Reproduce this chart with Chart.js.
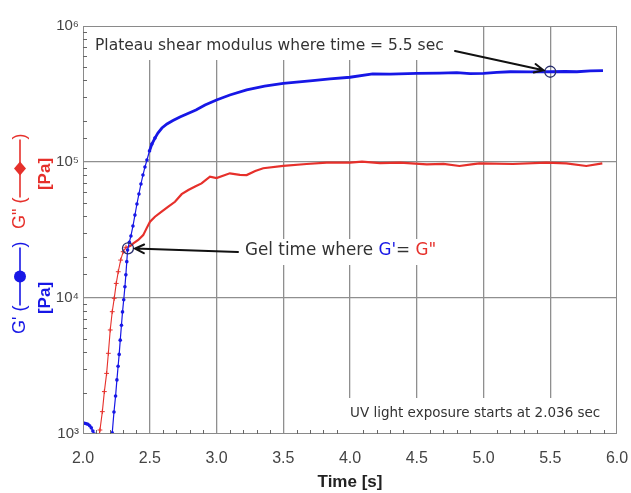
<!DOCTYPE html>
<html>
<head>
<meta charset="utf-8">
<script src="https://cdn.jsdelivr.net/npm/chart.js@4.4.0/dist/chart.umd.min.js"></script>
<style>
  html, body { margin: 0; padding: 0; background: #fff; }
</style>
</head>
<body>
<canvas id="modulusChart" width="631" height="493"></canvas>
<script>
// storage modulus G' (blue) and loss modulus G" (red) against time
var timeBlue = [2.000, 2.012, 2.025, 2.037, 2.050, 2.062, 2.074, 2.086, 2.099, 2.112,
    2.205, 2.219, 2.232, 2.244, 2.254, 2.263, 2.271, 2.279, 2.288, 2.296, 2.305,
    2.314, 2.321, 2.328, 2.334, 2.347, 2.359, 2.374, 2.389, 2.404, 2.419, 2.434,
    2.449, 2.464, 2.479, 2.498, 2.516, 2.539, 2.561, 2.591, 2.629, 2.674, 2.726,
    2.786, 2.846, 2.914, 3.000, 3.100, 3.226, 3.360, 3.500, 3.720, 3.850, 4.000,
    4.170, 4.300, 4.500, 4.670, 4.800, 4.900, 5.000, 5.100, 5.200, 5.350, 5.500,
    5.610, 5.700, 5.800, 5.895];
var gPrime = [1200, 1200, 1190, 1180, 1150, 1110, 1050, 1000, 985, 960,
    700, 1020, 1450, 1900, 2500, 3150, 3850, 4900, 6300, 7900, 9700,
    12100, 14800, 18500, 22500, 25700, 28600, 33800, 40700, 49100, 58200, 68900,
    80200, 91800, 103500, 120500, 135500, 150000, 163300, 177800, 190300, 201700, 214100,
    227300, 241200, 262400, 285800, 311000, 338500, 362000, 379000, 396000, 408000, 420000,
    444000, 442000, 449000, 451000, 454000, 447000, 449000, 456000, 461000, 460000, 461000,
    463000, 461000, 467000, 469000];

var timeRed = [2.050, 2.105, 2.127, 2.145, 2.160, 2.177, 2.190, 2.204, 2.219, 2.234,
    2.249, 2.264, 2.282, 2.301, 2.322, 2.340, 2.358, 2.377, 2.414, 2.451, 2.476,
    2.502, 2.539, 2.589, 2.639, 2.689, 2.739, 2.789, 2.840, 2.888, 2.951, 3.000,
    3.100, 3.175, 3.226, 3.290, 3.350, 3.500, 3.675, 3.825, 4.000, 4.090, 4.225,
    4.375, 4.575, 4.700, 4.820, 4.910, 4.970, 5.220, 5.470, 5.620, 5.770, 5.890];
var gDoublePrime = [600, 800, 1070, 1460, 2050, 2790, 3920, 5820, 7930, 9950,
    12800, 15600, 19000, 21900, 23600, 23800, 24300, 25200, 26700, 29000, 32500,
    36400, 39600, 43100, 46900, 51000, 58000, 62200, 66000, 69600, 78000, 76200,
    82600, 80400, 80200, 85900, 90000, 93500, 96700, 98900, 98900, 100500, 98000,
    98900, 96200, 97000, 93500, 96000, 97700, 96700, 98900, 97700, 93500, 97700];

// marked points: crossover (gel time) and plateau at 5.5 s
var gelPoint = { x: 2.337, y: 23200 };
var plateauPoint = { x: 5.5, y: 461000 };

var yTickLabels = ['10³', '10⁴', '10⁵', '10⁶'];
var xTitle = 'Time [s]';
var plateauText = 'Plateau shear modulus where time = 5.5 sec';
var uvText = 'UV light exposure starts at 2.036 sec';

var BLUE = '#1717e6';
var RED = '#e6302b';
var TEXT = '#333333';
var GRID = '#8f8f8f';
var SANS = '"Liberation Sans", Arial, sans-serif';
var NOTE = '"DejaVu Sans", Verdana, sans-serif';

function toPoints(xs, ys) {
    return xs.map(function(x, i) { return { x: x, y: ys[i] }; });
}

function isDecade(v) {
    var e = Math.log10(v);
    return Math.abs(e - Math.round(e)) < 1e-6;
}

function drawArrow(ctx, x0, y0, cx, cy, r) {
    var ang = Math.atan2(cy - y0, cx - x0);
    var x1 = cx - Math.cos(ang) * (r + 1.5);
    var y1 = cy - Math.sin(ang) * (r + 1.5);
    ctx.save();
    ctx.strokeStyle = '#111';
    ctx.lineWidth = 2;
    ctx.lineCap = 'round';
    ctx.beginPath();
    ctx.moveTo(x0, y0);
    ctx.lineTo(x1, y1);
    ctx.moveTo(x1 - 10 * Math.cos(ang - 0.45), y1 - 10 * Math.sin(ang - 0.45));
    ctx.lineTo(x1, y1);
    ctx.lineTo(x1 - 10 * Math.cos(ang + 0.45), y1 - 10 * Math.sin(ang + 0.45));
    ctx.stroke();
    ctx.restore();
}

// rotated "G' (—●—)" style label, reading bottom to top
function drawSeriesKey(ctx, cx, yBottom, label, color, marker) {
    ctx.save();
    ctx.translate(cx, yBottom);
    ctx.rotate(-Math.PI / 2);
    ctx.fillStyle = color;
    ctx.strokeStyle = color;
    ctx.font = '18px ' + SANS;
    ctx.textBaseline = 'middle';
    var x = 0;
    var head = label + ' (';
    ctx.fillText(head, x, 0);
    x += ctx.measureText(head).width;
    var seg = 29;
    ctx.lineWidth = 1.6;
    ctx.beginPath();
    ctx.moveTo(x, 0);
    ctx.lineTo(x + 2 * seg, 0);
    ctx.stroke();
    ctx.beginPath();
    if (marker === 'circle') {
        ctx.arc(x + seg, 0, 6, 0, Math.PI * 2);
    } else {
        ctx.moveTo(x + seg - 7, 0);
        ctx.lineTo(x + seg, -6);
        ctx.lineTo(x + seg + 7, 0);
        ctx.lineTo(x + seg, 6);
        ctx.closePath();
    }
    ctx.fill();
    x += 2 * seg;
    ctx.fillText(')', x, 0);
    ctx.restore();
}

function drawUnit(ctx, cx, cy, color) {
    ctx.save();
    ctx.translate(cx, cy);
    ctx.rotate(-Math.PI / 2);
    ctx.fillStyle = color;
    ctx.font = 'bold 17px ' + SANS;
    ctx.textAlign = 'center';
    ctx.textBaseline = 'middle';
    ctx.fillText('[Pa]', 0, 0);
    ctx.restore();
}

var decor = {
    id: 'decor',
    beforeDatasetsDraw: function(chart) {
        var ctx = chart.ctx;
        // white backing behind the notes, over the grid
        ctx.save();
        ctx.fillStyle = '#ffffff';
        ctx.fillRect(84, 27, 368, 33);
        ctx.fillRect(240, 239, 206, 26);
        ctx.fillRect(345, 398, 271, 35);
        ctx.restore();
    },
    afterDatasetsDraw: function(chart) {
        var ctx = chart.ctx;
        var a = chart.chartArea;
        var xs = chart.scales.x;
        var ys = chart.scales.y;

        ctx.save();
        // frame
        ctx.strokeStyle = '#8a8a8a';
        ctx.lineWidth = 1;
        ctx.strokeRect(a.left + 0.5, a.top + 0.5, a.width - 1, a.height - 1);

        // inward minor ticks
        ctx.strokeStyle = '#666';
        ctx.beginPath();
        ys.ticks.forEach(function(t) {
            if (isDecade(t.value)) return;
            var y = Math.round(ys.getPixelForValue(t.value)) + 0.5;
            ctx.moveTo(a.left, y);
            ctx.lineTo(a.left + 4, y);
        });
        for (var i = 21; i < 60; i++) {
            if (i % 5 === 0) continue;
            var x = Math.round(xs.getPixelForValue(i / 10)) + 0.5;
            ctx.moveTo(x, a.bottom);
            ctx.lineTo(x, a.bottom - 4);
        }
        ctx.stroke();

        // notes
        ctx.fillStyle = TEXT;
        ctx.textBaseline = 'middle';
        ctx.font = '15.5px ' + NOTE;
        ctx.fillText(plateauText, 95, 46);
        ctx.font = '13.5px ' + NOTE;
        ctx.fillText(uvText, 350, 413);

        ctx.font = '16.8px ' + NOTE;
        var parts = [['Gel time where ', TEXT], ["G'", BLUE], ['= ', TEXT], ['G"', RED]];
        var gx = 245;
        parts.forEach(function(p) {
            ctx.fillStyle = p[1];
            ctx.fillText(p[0], gx, 251);
            gx += ctx.measureText(p[0]).width;
        });

        // arrows to the marked points
        var marks = chart.getDatasetMeta(0).data;
        drawArrow(ctx, 238, 252, marks[0].x, marks[0].y, 5.5);
        drawArrow(ctx, 455, 51, marks[1].x, marks[1].y, 5.5);

        // y axis title
        drawSeriesKey(ctx, 20, 334, "G'", BLUE, 'circle');
        drawSeriesKey(ctx, 20, 229, 'G"', RED, 'diamond');
        drawUnit(ctx, 45, 298, BLUE);
        drawUnit(ctx, 45, 174, RED);
        ctx.restore();
    }
};

new Chart(document.getElementById('modulusChart'), {
    type: 'line',
    data: {
        datasets: [
            {
                label: 'marks',
                data: [gelPoint, plateauPoint],
                showLine: false,
                pointRadius: 5.5,
                pointBorderWidth: 1.3,
                pointBorderColor: '#2a2f6e',
                pointBackgroundColor: 'rgba(0,0,0,0)'
            },
            {
                label: "G'",
                data: toPoints(timeBlue, gPrime),
                borderColor: BLUE,
                borderWidth: 1.2,
                pointBackgroundColor: BLUE,
                pointBorderWidth: 0,
                pointRadius: function(c) { return c.raw && c.raw.x <= 2.56 ? 1.8 : 0; },
                segment: {
                    borderWidth: function(c) { return c.p0.parsed.x >= 2.49 ? 2.8 : 1.2; }
                }
            },
            {
                label: 'G"',
                data: toPoints(timeRed, gDoublePrime),
                borderColor: RED,
                borderWidth: 1.1,
                pointStyle: 'cross',
                pointBorderColor: RED,
                pointBorderWidth: 1,
                pointRadius: function(c) { return c.raw && c.raw.x < 2.33 ? 2.4 : 0; },
                segment: {
                    borderWidth: function(c) { return c.p0.parsed.x >= 2.33 ? 2.2 : 1.1; }
                }
            }
        ]
    },
    options: {
        responsive: false,
        animation: false,
        events: [],
        layout: { padding: { top: 26, right: 14, left: 0, bottom: 0 } },
        plugins: {
            legend: { display: false },
            tooltip: { enabled: false }
        },
        scales: {
            x: {
                type: 'linear',
                min: 2,
                max: 6,
                afterFit: function(s) {
                    s.height = 59;
                    s.paddingLeft = 0;
                    s.paddingRight = 0;
                },
                border: { display: false },
                grid: {
                    drawTicks: false,
                    lineWidth: 1.3,
                    color: function(c) {
                        var v = c.tick && c.tick.value;
                        return (v === 2 || v === 6) ? 'rgba(0,0,0,0)' : GRID;
                    }
                },
                ticks: {
                    stepSize: 0.5,
                    autoSkip: false,
                    maxRotation: 0,
                    padding: 15,
                    color: '#444',
                    font: { family: SANS, size: 16 },
                    callback: function(v) { return v.toFixed(1); }
                },
                title: {
                    display: true,
                    text: xTitle,
                    color: '#222',
                    padding: 0,
                    font: { family: SANS, size: 17, weight: 'bold' }
                }
            },
            y: {
                type: 'logarithmic',
                min: 1000,
                max: 1000000,
                afterFit: function(s) {
                    s.width = 83;
                    s.paddingTop = 0;
                    s.paddingBottom = 0;
                },
                border: { display: false },
                grid: {
                    drawTicks: false,
                    lineWidth: 1.3,
                    color: function(c) {
                        var v = c.tick && c.tick.value;
                        if (!v || v === 1000 || v === 1000000) return 'rgba(0,0,0,0)';
                        return isDecade(v) ? GRID : 'rgba(0,0,0,0)';
                    }
                },
                ticks: {
                    autoSkip: false,
                    padding: 4,
                    color: '#444',
                    font: { family: SANS, size: 15 },
                    callback: function(v) {
                        if (!isDecade(v)) return '';
                        return yTickLabels[Math.round(Math.log10(v)) - 3];
                    }
                }
            }
        }
    },
    plugins: [decor]
});
</script>
</body>
</html>
